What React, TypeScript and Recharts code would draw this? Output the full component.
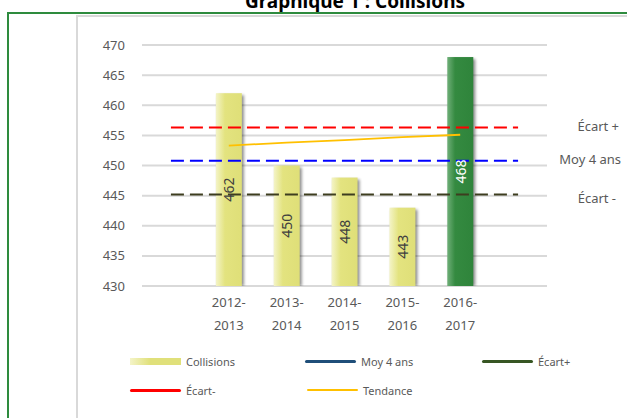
import { ComposedChart, Bar, Line, XAxis, YAxis, CartesianGrid, LabelList, Cell } from "recharts";

// catégories : une case vide de chaque côté (les lignes de référence y débordent)
const categories = ["", "2012-2013", "2013-2014", "2014-2015", "2015-2016", "2016-2017", ""];
const collisions = [null, 462, 450, 448, 443, 468, null];
const tendance = [null, 453.3, 453.8, 454.2, 454.7, 455.1, null];
const moy4ans = [450.8, 450.8, 450.8, 450.8, 450.8, 450.8, 450.8];
const ecartPlus = [456.3, 456.3, 456.3, 456.3, 456.3, 456.3, 456.3];
const ecartMoins = [445.2, 445.2, 445.2, 445.2, 445.2, 445.2, 445.2];
const yTicks = [430, 435, 440, 445, 450, 455, 460, 465, 470];
const HIGHLIGHT = "2016-2017";

const data = categories.map((c, i) => ({
  key: `c${i}`,
  label: c,
  collisions: collisions[i],
  tendance: tendance[i],
  moy: moy4ans[i],
  ep: ecartPlus[i],
  em: ecartMoins[i],
}));

const FONT = "'Noto Sans', 'DejaVu Sans', sans-serif";
const GREY = "#595959";
const GREEN = "#2F843B";

const XTick = (props: any) => {
  const { x, y, payload } = props;
  const lab = data[payload.index]?.label ?? "";
  if (!lab) return null;
  const [a, b] = lab.split("-");
  return (
    <text x={x} y={y} textAnchor="middle" fill={GREY} fontSize={13} fontFamily={FONT}>
      <tspan x={x} dy={13}>{a}-</tspan>
      <tspan x={x} dy={23}>{b}</tspan>
    </text>
  );
};

const barShape = (props: any) => {
  const { x, y, width, height, payload } = props;
  if (!height || height <= 0) return null;
  const hi = payload?.label === HIGHLIGHT;
  return (
    <g>
      <rect x={x + 2} y={y + 2} width={width} height={height - 2} fill="#000" opacity={0.45} filter="url(#blur)" />
      <rect x={x} y={y} width={width} height={height} fill={hi ? "url(#gGreen)" : "url(#gYellow)"} />
    </g>
  );
};

const barLabel = (props: any) => {
  const { x, y, width, height, value } = props;
  if (value == null) return null;
  const cx = Number(x) + Number(width) / 2;
  const cy = Number(y) + Number(height) / 2;
  const hi = value === collisions[categories.indexOf(HIGHLIGHT)];
  return (
    <text
      x={cx}
      y={cy}
      transform={`rotate(-90 ${cx} ${cy})`}
      textAnchor="middle"
      dominantBaseline="central"
      fill={hi ? "#ffffff" : "#404040"}
      fontSize={14}
      fontFamily={FONT}
    >
      {value}
    </text>
  );
};

// libellé à droite, seulement au dernier point de la ligne
const endLabel = (text: string, dx: number, dy: number) => (props: any) => {
  const { x, y, index } = props;
  if (index !== categories.length - 1) return null;
  return (
    <text x={Number(x) + dx} y={Number(y) + dy} textAnchor="end" dominantBaseline="central" fill={GREY} fontSize={13} fontFamily={FONT}>
      {text}
    </text>
  );
};

const legendItems = [
  { label: "Collisions", kind: "bar", color: "#E0E07A", left: 130, top: 361 },
  { label: "Moy 4 ans", kind: "line", color: "#1F4E79", left: 305, top: 361 },
  { label: "Écart+", kind: "line", color: "#375623", left: 482, top: 361 },
  { label: "Écart-", kind: "line", color: "#FF0000", left: 130, top: 390 },
  { label: "Tendance", kind: "thin", color: "#FFC000", left: 307, top: 390 },
];

export default function App() {
  return (
    <div style={{ position: "fixed", left: 0, top: 0, width: 627, height: 418, background: "#fff", overflow: "hidden", fontFamily: FONT }}>
      <div style={{ position: "absolute", left: 0, width: 710, top: -12, textAlign: "center", fontWeight: 700, fontSize: 19, color: "#000" }}>
        Graphique 1 : Collisions
      </div>
      <div style={{ position: "absolute", left: 7, top: 12, width: 640, height: 420, borderLeft: "2px solid #2E8B3E", borderTop: "2px solid #2E8B3E" }} />
      <div style={{ position: "absolute", left: 76, top: 15, width: 600, height: 420, borderLeft: "2px solid #D9D9D9", borderTop: "2px solid #D9D9D9" }} />
      <div style={{ position: "absolute", left: 0, top: 0 }}>
        <ComposedChart width={627} height={418} data={data} margin={{ top: 45, right: 80, left: 0, bottom: 0 }} barSize={26}>
          <defs>
            <linearGradient id="gYellow" x1="0" y1="0" x2="1" y2="0">
              <stop offset="0%" stopColor="#F4F4C8" />
              <stop offset="35%" stopColor="#E3E37F" />
              <stop offset="100%" stopColor="#DFDF78" />
            </linearGradient>
            <linearGradient id="gGreen" x1="0" y1="0" x2="1" y2="0">
              <stop offset="0%" stopColor="#6FAF78" />
              <stop offset="30%" stopColor="#348A40" />
              <stop offset="100%" stopColor={GREEN} />
            </linearGradient>
            <filter id="blur" x="-50%" y="-10%" width="200%" height="120%">
              <feGaussianBlur stdDeviation="1.5" />
            </filter>
          </defs>
          <CartesianGrid vertical={false} stroke="#D9D9D9" strokeWidth={2} />
          <XAxis dataKey="key" tick={<XTick />} tickLine={false} axisLine={false} height={132} interval={0} />
          <YAxis
            domain={[430, 470]}
            ticks={yTicks}
            width={142}
            tickLine={false}
            axisLine={false}
            tickSize={0}
            tickMargin={17}
            tick={{ fill: GREY, fontSize: 13, fontFamily: FONT }}
            allowDataOverflow
          />
          <Bar dataKey="collisions" shape={barShape} isAnimationActive={false}>
            {data.map((d, i) => (
              <Cell key={i} fill={d.label === HIGHLIGHT ? GREEN : "#E0E07A"} />
            ))}
            <LabelList dataKey="collisions" content={barLabel} />
          </Bar>
          <Line dataKey="ep" stroke="#FF0000" strokeWidth={2} strokeDasharray="13 6" dot={false} isAnimationActive={false}>
            <LabelList dataKey="ep" content={endLabel("Écart +", 101, -2)} />
          </Line>
          <Line dataKey="moy" stroke="#0000FF" strokeWidth={2} strokeDasharray="13 6" dot={false} isAnimationActive={false}>
            <LabelList dataKey="moy" content={endLabel("Moy 4 ans", 103, -2)} />
          </Line>
          <Line dataKey="em" stroke="#3D3D1F" strokeWidth={2} strokeDasharray="13 6" dot={false} isAnimationActive={false}>
            <LabelList dataKey="em" content={endLabel("Écart -", 98, 4)} />
          </Line>
          <Line dataKey="tendance" stroke="#FFC000" strokeWidth={1.8} dot={false} isAnimationActive={false} connectNulls={false} />
        </ComposedChart>
      </div>
      {legendItems.map((it) => (
        <div key={it.label} style={{ position: "absolute", left: it.left, top: it.top - 8, height: 16, display: "flex", alignItems: "center", fontSize: 11, color: GREY }}>
          <span
            style={{
              display: "inline-block",
              width: 51,
              height: it.kind === "bar" ? 7 : it.kind === "thin" ? 2 : 3,
              borderRadius: it.kind === "bar" ? 0 : 2,
              background: it.kind === "bar" ? "linear-gradient(90deg, #F4F4C8, #E0E07A 40%)" : it.color,
              marginRight: 5,
            }}
          />
          {it.label}
        </div>
      ))}
    </div>
  );
}
